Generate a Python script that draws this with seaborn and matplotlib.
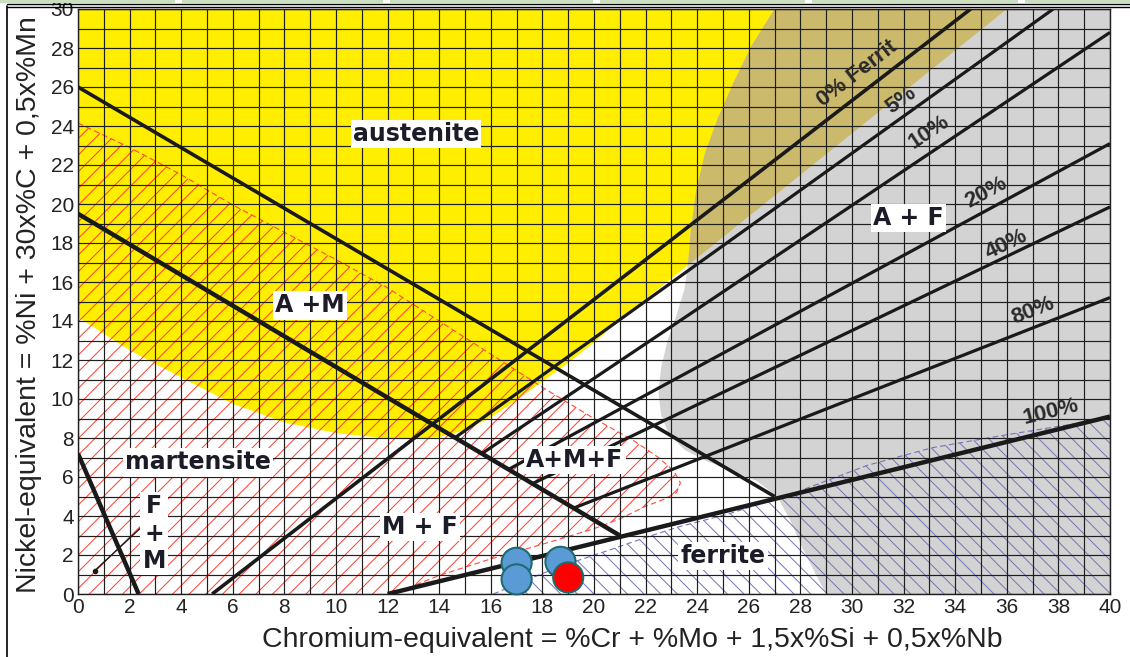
import numpy as np
import pandas as pd
import matplotlib
matplotlib.use("Agg")
import matplotlib.pyplot as plt
from matplotlib.patches import Polygon, Rectangle
from matplotlib.lines import Line2D
import seaborn as sns

sns.set_theme(style="white")
plt.rcParams['font.family'] = ['Liberation Sans', 'DejaVu Sans']
plt.rcParams['hatch.linewidth'] = 0.7

# ---- axis ranges -------------------------------------------------------
CR_MAX, NI_MAX = 40, 30
x_ticks = list(range(0, 41, 2))
y_ticks = list(range(0, 31, 2))

# ---- phase fields (Cr-eq, Ni-eq) ----------------------------------------
# austenite field
aust_cr = [0, 36, 21, 20, 19, 18, 17, 16, 15, 14, 13, 12, 10, 8, 6, 4, 2, 0]
aust_ni = [30, 30, 14.05, 12.9, 11.85, 10.9, 9.95, 9.05, 8.4, 8.05, 7.95, 7.98,
           8.25, 8.8, 9.75, 11.1, 12.5, 14.2]

# ferrite-containing field (grey)
ferr_cr = [27, 40, 40, 29.0, 28.6, 28.1, 27.6, 27.1, 26.3, 25.3, 24.3, 23.5, 22.9,
           22.6, 22.5, 22.6, 22.85, 23.2, 23.5, 23.65, 23.75, 23.95, 24.3, 24.8,
           25.4, 26.1]
ferr_ni = [30, 30, 0, 0, 1.0, 2.3, 3.8, 5.0, 5.8, 6.35, 6.85, 7.4, 8.2,
           9.2, 10.3, 11.6, 13.0, 14.3, 15.6, 17.0, 18.6, 20.6, 22.6, 24.4,
           26.2, 28.1]

# martensite field (red hatching), open edge runs along the axes
mart_cr = [0, 0, 2, 4, 6, 8, 10, 12, 14, 16, 18, 20, 21.5, 22.5, 23.1, 23.35,
           23.2, 22.7, 22.0, 21.0, 20.0, 18.0, 16.0, 14.0, 12.2]
mart_ni = [0, 24.15, 22.9, 21.5, 19.95, 18.55, 17.15, 15.7, 14.0, 12.3, 10.6,
           9.0, 7.9, 7.0, 6.3, 5.7, 5.2, 4.85, 4.5, 3.85, 3.35, 2.55, 1.8,
           0.95, 0.0]

# ferrite field (blue hatching)
fe_cr = [16.1, 17, 18, 19, 20.7, 22, 23.3, 25.2, 27.7, 30.6, 33.1, 35.7, 38, 40, 40]
fe_ni = [0, 0.5, 1.05, 1.55, 2.3, 2.9, 3.45, 4.1, 5.15, 6.6, 7.5, 8.1, 8.6, 9.0, 0]

# ---- boundary lines: start / end points ---------------------------------
line_names = ["A+M", "M", "F+M", "100%", "0%", "5%", "10%", "20%", "40%", "80%"]
line_x0 = [0, 0, 0, 12, 5.2, 14.6, 15.65, 16.7, 17.6, 19.2]
line_y0 = [26, 19.5, 7.2, 0, 0, 8.0, 7.2, 6.4, 5.65, 4.4]
line_x1 = [27, 21, 2.35, 40, 34.6, 37.8, 40, 40, 40, 40]
line_y1 = [5, 3, 0, 9.1, 30, 30, 28.8, 23.1, 19.85, 15.2]
line_w = [2.6, 3.2, 3.2, 3.2, 2.6, 2.3, 2.3, 2.3, 2.3, 2.3]

# ferrite percentage labels
pct_text = ["0% Ferrit", "5%", "10%", "20%", "40%", "80%", "100%"]
pct_line = ["0%", "5%", "10%", "20%", "40%", "80%", "100%"]
pct_x = [30.2, 31.9, 33.0, 35.2, 36.0, 37.0, 37.7]
pct_y = [26.7, 25.3, 23.7, 20.6, 17.95, 14.55, 9.35]

# field names
field_text = ["austenite", "A +M", "martensite", "M + F", "A+M+F", "ferrite", "A + F"]
field_x = [13.1, 9.0, 4.65, 13.25, 19.26, 25.0, 32.2]
field_y = [23.6, 14.8, 6.75, 3.45, 6.87, 1.95, 19.3]

# measured weld metal compositions
pts = pd.DataFrame({
    "cr": [17.0, 17.0, 18.7, 19.0],
    "ni": [1.6, 0.75, 1.65, 0.85],
    "kind": ["a", "a", "a", "b"],
})

# ---- figure --------------------------------------------------------------
fig = plt.figure(figsize=(11.3, 6.57), dpi=100)
ax = fig.add_axes([78 / 1130, 63 / 657, 1032 / 1130, 585 / 657])
ax.set_xlim(0, CR_MAX)
ax.set_ylim(0, NI_MAX)

YELLOW = "#ffee00"
GREY = "#d3d3d3"
OLIVE = "#cbb96c"

aust_poly = Polygon(np.column_stack([aust_cr, aust_ni]), closed=True,
                    facecolor=YELLOW, edgecolor="none", zorder=1)
ax.add_patch(aust_poly)
ferr_poly = Polygon(np.column_stack([ferr_cr, ferr_ni]), closed=True,
                    facecolor=GREY, edgecolor="none", zorder=1.1)
ax.add_patch(ferr_poly)
overlap = Polygon(np.column_stack([ferr_cr, ferr_ni]), closed=True,
                  facecolor=OLIVE, edgecolor="none", zorder=1.2)
ax.add_patch(overlap)
overlap.set_clip_path(aust_poly)

mart_poly = Polygon(np.column_stack([mart_cr, mart_ni]), closed=True,
                    facecolor="none", edgecolor="#ff3b2f", linewidth=0,
                    hatch="//", zorder=2)
ax.add_patch(mart_poly)
ax.plot(mart_cr[1:], mart_ni[1:], color="#ff4a3a", lw=0.8, ls=(0, (5, 3)),
        zorder=2.1)

fe_poly = Polygon(np.column_stack([fe_cr, fe_ni]), closed=True,
                  facecolor="none", edgecolor="#7474b8", linewidth=0,
                  hatch="\\\\", zorder=2)
ax.add_patch(fe_poly)
ax.plot(fe_cr[:-1], fe_ni[:-1], color="#7474b8", lw=0.8, ls=(0, (5, 3)),
        zorder=2.1)

# 1-unit grid drawn over the fields
ax.set_xticks(x_ticks)
ax.set_yticks(y_ticks)
ax.set_xticks(range(1, 40, 2), minor=True)
ax.set_yticks(range(1, 30, 2), minor=True)
ax.set_axisbelow(False)
ax.grid(which="both", color="#1e1e1e", linewidth=0.85)
ax.tick_params(which="both", length=0, labelsize=15, colors="#222222", pad=3)
for s in ax.spines.values():
    s.set_color("#1e1e1e")
    s.set_linewidth(1.0)

# boundary and iso-ferrite lines
line_map = {}
for n, x0, y0, x1, y1, w in zip(line_names, line_x0, line_y0, line_x1, line_y1, line_w):
    ax.plot([x0, x1], [y0, y1], color="#1a1a1a", lw=w, solid_capstyle="butt",
            zorder=4)
    line_map[n] = (x0, y0, x1, y1)

# leader of the F+M label
ax.plot([0.65, 2.6], [1.2, 3.6], color="#1a1a1a", lw=1.0, zorder=4)
ax.plot([0.65], [1.2], marker="o", ms=3, color="#1a1a1a", zorder=4)

for t, n, x, y in zip(pct_text, pct_line, pct_x, pct_y):
    x0, y0, x1, y1 = line_map[n]
    ang = np.degrees(np.arctan2(y1 - y0, x1 - x0))
    ax.text(x, y, t, rotation=ang, transform_rotates_text=True,
            rotation_mode="anchor", ha="center", va="center",
            fontsize=16, fontweight="bold", color="#2a2a2a", zorder=5)

box = dict(facecolor="white", edgecolor="none", pad=1.5)
label_font = ["DejaVu Sans"]
for t, x, y in zip(field_text, field_x, field_y):
    ax.text(x, y, t, ha="center", va="center", fontsize=17, fontweight="bold",
            family=label_font, color="#1c1c28", bbox=box, zorder=5)
ax.text(2.95, 3.1, "F\n+\nM", ha="center", va="center", multialignment="center",
        linespacing=1.2, fontsize=17, fontweight="bold", family=label_font,
        color="#1c1c28", bbox=box, zorder=5)

sns.scatterplot(data=pts, x="cr", y="ni", hue="kind",
                palette={"a": "#5b9bd5", "b": "#ff0000"},
                s=470, edgecolor="#1f6b70", linewidth=1.5, legend=False,
                ax=ax, zorder=6, clip_on=False)

ax.set_xlabel("Chromium-equivalent = %Cr + %Mo + 1,5x%Si + 0,5x%Nb",
              fontsize=20.5, color="#222222")
ax.xaxis.set_label_coords(0.537, -0.079, transform=ax.transAxes)
ax.xaxis.label.set_va("center")
ax.set_ylabel("Nickel-equivalent = %Ni + 30x%C + 0,5x%Mn",
              fontsize=20.5, color="#222222")
ax.yaxis.set_label_coords(-0.047, 0.495, transform=ax.transAxes)
ax.yaxis.label.set_va("center")

# page frame around the figure
fig.add_artist(Line2D([7 / 1130, 7 / 1130], [0, 1 - 6 / 657], color="black",
                      lw=1.2, transform=fig.transFigure))
for yy in (4, 7):
    fig.add_artist(Line2D([7 / 1130, 1], [1 - yy / 657, 1 - yy / 657],
                          color="black", lw=1.0, transform=fig.transFigure))
for x0, x1 in [(0, 175), (182, 383), (390, 593), (600, 805), (812, 1018), (1025, 1130)]:
    fig.add_artist(Rectangle((x0 / 1130, 1 - 2.5 / 657), (x1 - x0) / 1130, 2.5 / 657,
                             facecolor="#c9dfbf", edgecolor="none",
                             transform=fig.transFigure))

fig.savefig("out.png", dpi=100)
